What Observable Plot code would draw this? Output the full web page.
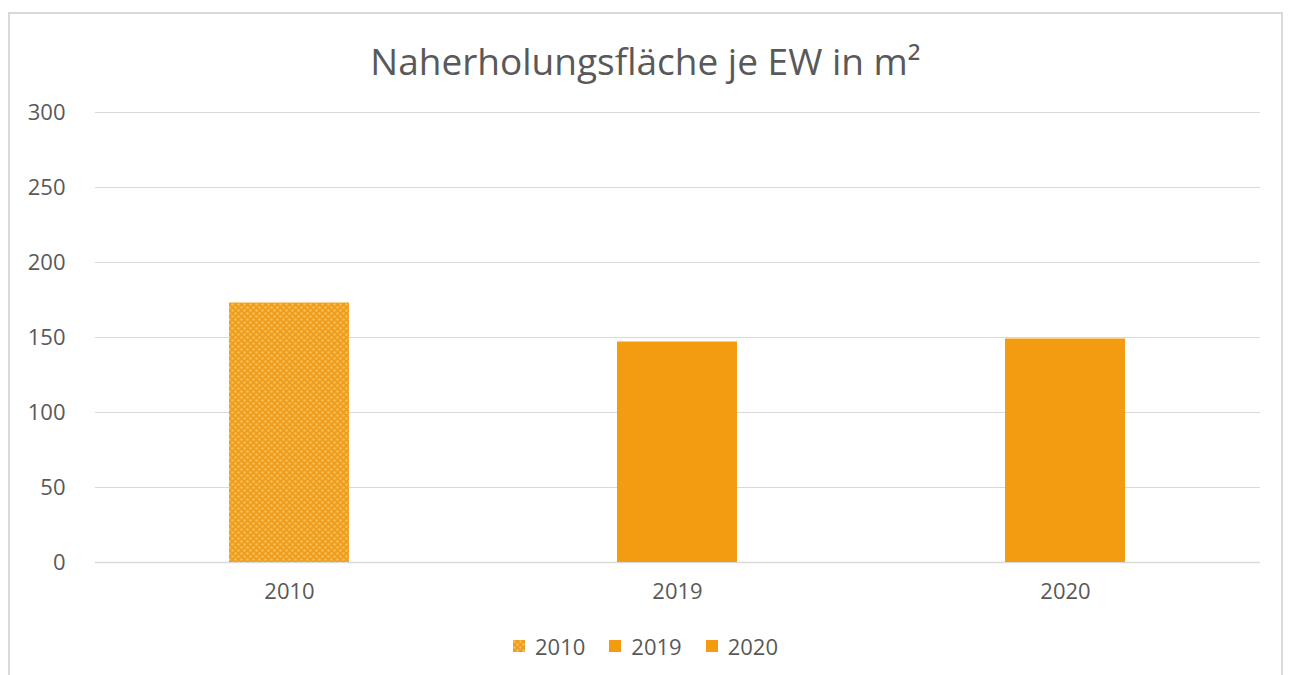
<!DOCTYPE html>
<html>
<head>
<meta charset="utf-8">
<script src="https://cdn.jsdelivr.net/npm/d3@7"></script>
<script src="https://cdn.jsdelivr.net/npm/@observablehq/plot@0.6"></script>
<style>
  html, body { margin: 0; padding: 0; background: #fff; }
  body { width: 1291px; height: 675px; position: relative; overflow: hidden; font-family: "Open Sans", Lato, sans-serif; }
  #frame { position: absolute; left: 8px; top: 12px; width: 1275px; height: 670px; border: 2px solid #d9d9d9; box-sizing: border-box; }
  #title { position: absolute; left: 0; width: 1291px; top: 36px; text-align: center; font-size: 37px; line-height: 50px; color: #595959; }
  #chart { position: absolute; left: 0; top: 0; }
  #legend { position: absolute; left: 0; width: 1291px; top: 628px; text-align: center; font-size: 22px; line-height: 30px; color: #595959; }
  #legend span.item { margin: 0 12px; display: inline-flex; align-items: center; }
  #legend svg { margin-right: 10px; }
</style>
</head>
<body>
<div id="frame"></div>
<div id="title">Naherholungsfläche je EW in m²</div>
<div id="chart"></div>
<div id="legend"></div>
<script>
const years = ["2010", "2019", "2020"];
const values = [173, 147, 149];
const yTicks = [0, 50, 100, 150, 200, 250, 300];
const fills = ["url(#pat2010)", "#F39C12", "#F39C12"];

const data = years.map((y, i) => ({year: y, value: values[i], fill: fills[i]}));

const plot = Plot.plot({
  width: 1291,
  height: 620,
  marginTop: 112,
  marginBottom: 58,
  marginLeft: 95,
  marginRight: 31,
  style: {fontFamily: '"Open Sans", Lato, sans-serif', fontSize: "22px", color: "#595959", background: "transparent"},
  x: {domain: years, label: null, paddingInner: 0.69, paddingOuter: 0.345, tickSize: 0, tickPadding: 21},
  y: {domain: [0, 300], ticks: yTicks, label: null, tickSize: 0, tickPadding: 30},
  marks: [
    Plot.ruleY(yTicks.filter(d => d > 0), {stroke: "#d9d9d9", strokeWidth: 1, strokeOpacity: 1}),
    Plot.ruleY([0], {stroke: "#d9d9d9", strokeWidth: 1.5}),
    Plot.barY(data, {x: "year", y: "value", fill: "fill"})
  ]
});

// pattern definition for 2010 bar
const ns = "http://www.w3.org/2000/svg";
function addPattern(svg, id) {
  const defs = document.createElementNS(ns, "defs");
  const pat = document.createElementNS(ns, "pattern");
  pat.setAttribute("id", id);
  pat.setAttribute("patternUnits", "userSpaceOnUse");
  pat.setAttribute("width", 6);
  pat.setAttribute("height", 6);
  const bg = document.createElementNS(ns, "rect");
  bg.setAttribute("width", 6); bg.setAttribute("height", 6); bg.setAttribute("fill", "#EF9E1C");
  pat.appendChild(bg);
  [[1.5,1.5],[4.5,4.5]].forEach(([cx,cy]) => {
    const c = document.createElementNS(ns, "circle");
    c.setAttribute("cx", cx); c.setAttribute("cy", cy); c.setAttribute("r", 1.3);
    c.setAttribute("fill", "#F6BE5E");
    pat.appendChild(c);
  });
  defs.appendChild(pat);
  svg.insertBefore(defs, svg.firstChild);
}
addPattern(plot, "pat2010");
document.getElementById("chart").appendChild(plot);

// legend
const legend = document.getElementById("legend");
years.forEach((y, i) => {
  const item = document.createElement("span");
  item.className = "item";
  const sw = document.createElementNS(ns, "svg");
  sw.setAttribute("width", 12); sw.setAttribute("height", 12);
  if (i === 0) addPattern(sw, "patLeg");
  const r = document.createElementNS(ns, "rect");
  r.setAttribute("width", 12); r.setAttribute("height", 12);
  r.setAttribute("fill", i === 0 ? "url(#patLeg)" : fills[i]);
  sw.appendChild(r);
  item.appendChild(sw);
  item.appendChild(document.createTextNode(y));
  legend.appendChild(item);
});
</script>
</body>
</html>
